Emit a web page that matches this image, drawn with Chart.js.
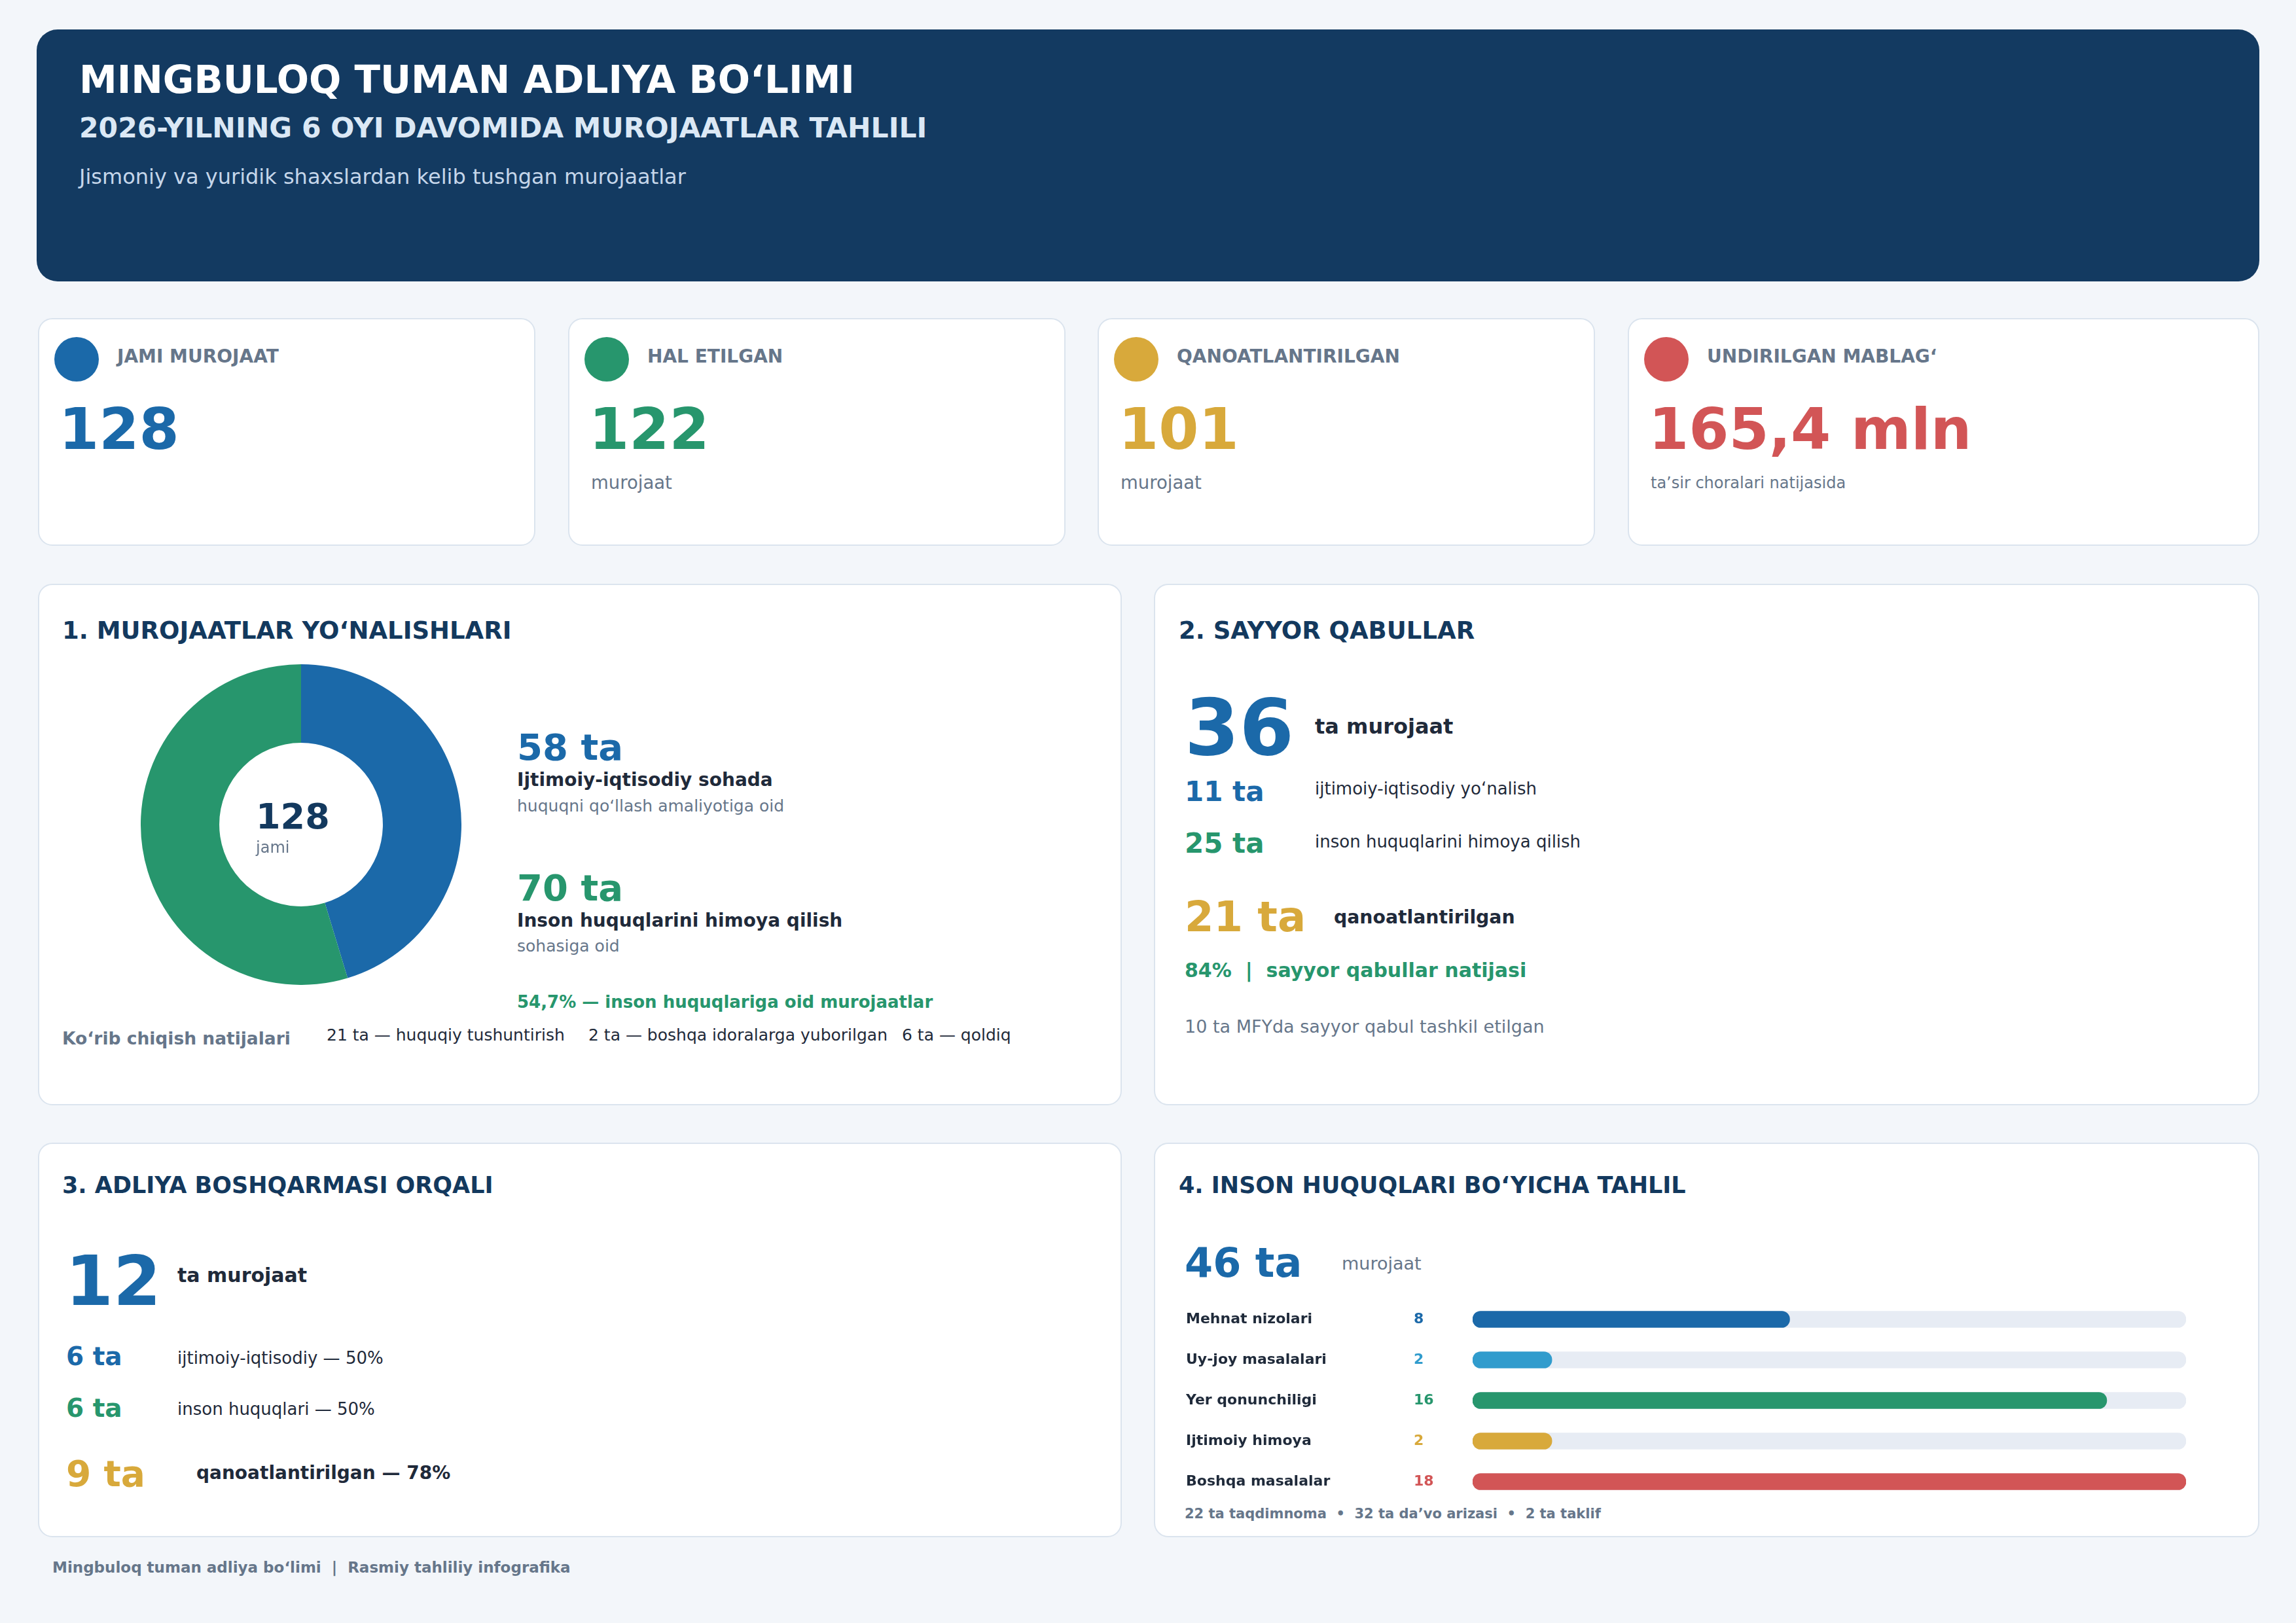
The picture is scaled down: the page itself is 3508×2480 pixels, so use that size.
<!DOCTYPE html>
<html>
<head>
<meta charset="utf-8">
<script src="https://cdn.jsdelivr.net/npm/chart.js@4.4.1/dist/chart.umd.min.js"></script>
<style>
  html, body { margin: 0; padding: 0; }
  body { width: 3508px; height: 2480px; background: #f3f6fa; position: relative; overflow: hidden;
         font-family: "DejaVu Sans", sans-serif; }
  .box { position: absolute; box-sizing: border-box; }
  .card { background: #fff; border: 2px solid #dbe4ee; border-radius: 22px; }
  .t { position: absolute; white-space: pre; line-height: 1; transform: translateY(-50%); }
  .dot { position: absolute; border-radius: 50%; }
  canvas { position: absolute; }
</style>
</head>
<body>
<div class="box" style="left:56px;top:45px;width:3396px;height:385px;background:#133a61;border-radius:32px"></div>

<div class="box card" style="left:58px;top:486px;width:760px;height:348px"></div>
<div class="box card" style="left:868px;top:486px;width:760px;height:348px"></div>
<div class="box card" style="left:1677px;top:486px;width:760px;height:348px"></div>
<div class="box card" style="left:2487px;top:486px;width:965px;height:348px"></div>

<div class="box card" style="left:58px;top:892px;width:1656px;height:797px"></div>
<div class="box card" style="left:1763px;top:892px;width:1689px;height:797px"></div>
<div class="box card" style="left:58px;top:1746px;width:1656px;height:603px"></div>
<div class="box card" style="left:1763px;top:1746px;width:1689px;height:603px"></div>

<canvas id="donut" width="490" height="490" style="left:215px;top:1015px"></canvas>
<canvas id="bars" width="1528" height="310" style="left:1812px;top:1985px"></canvas>

<script>
// ---- data ----
var kpiLabels = ['JAMI MUROJAAT', 'HAL ETILGAN', 'QANOATLANTIRILGAN', 'UNDIRILGAN MABLAG‘']
var kpiValues = ['128', '122', '101', '165,4 mln']
var kpiNotes = ['', 'murojaat', 'murojaat', 'ta’sir choralari natijasida']

var directionLabels = ['Ijtimoiy-iqtisodiy sohada', 'Inson huquqlarini himoya qilish']
var directionNotes = ['huquqni qo‘llash amaliyotiga oid', 'sohasiga oid']
var directionValues = [58, 70]
var directionTotal = 128

var reviewResults = ['21 ta — huquqiy tushuntirish', '2 ta — boshqa idoralarga yuborilgan', '6 ta — qoldiq']

var rightsCategories = ['Mehnat nizolari', 'Uy-joy masalalari', 'Yer qonunchiligi', 'Ijtimoiy himoya', 'Boshqa masalalar']
var rightsValues = [8, 2, 16, 2, 18]

// ---- colours ----
var blue = '#1b69a9', green = '#27966d', gold = '#d8a93b', red = '#d25556', sky = '#319ccd'
var navy = '#13395e', dark = '#1f2a3a', gray = '#66768a'
var kpiColors = [blue, green, gold, red]
var rightsColors = [blue, sky, green, gold, red]

/**
 * Put one line of text, y is the vertical middle
 */
function put(x, y, text, size, weight, color) {
    var el = document.createElement('div')
    el.className = 't'
    el.style.left = x + 'px'
    el.style.top = y + 'px'
    el.style.fontSize = size + 'px'
    el.style.fontWeight = weight
    el.style.color = color
    el.textContent = text
    document.body.appendChild(el)
    return el
}

// header
put(121, 122, 'MINGBULOQ TUMAN ADLIYA BO‘LIMI', 58, 'bold', '#ffffff')
put(121, 196, '2026-YILNING 6 OYI DAVOMIDA MUROJAATLAR TAHLILI', 42.5, 'bold', '#dbe8f5')
put(121, 270, 'Jismoniy va yuridik shaxslardan kelib tushgan murojaatlar', 32, 'normal', '#c5d6ea')

// kpi cards
var kpiLeft = [58, 868, 1677, 2487]
for (var i = 0; i < kpiLabels.length; i++) {
    var d = document.createElement('div')
    d.className = 'dot'
    d.style.left = (kpiLeft[i] + 25) + 'px'
    d.style.top = '515px'
    d.style.width = '68px'
    d.style.height = '68px'
    d.style.background = kpiColors[i]
    document.body.appendChild(d)
    put(kpiLeft[i] + 121, 545, kpiLabels[i], 28, 'bold', gray)
    put(kpiLeft[i] + 32, 656, kpiValues[i], 88, 'bold', kpiColors[i])
    if (kpiNotes[i]) put(kpiLeft[i] + 35, 738, kpiNotes[i], i == 3 ? 24 : 27.5, 'normal', gray)
}

// section 1
put(95, 963, '1. MUROJAATLAR YO‘NALISHLARI', 37, 'bold', navy)
put(391, 1248, String(directionTotal), 54, 'bold', navy)
put(391, 1295, 'jami', 24, 'normal', gray)
put(790, 1142, directionValues[0] + ' ta', 56, 'bold', blue)
put(790, 1192, directionLabels[0], 28, 'bold', dark)
put(790, 1231, directionNotes[0], 25, 'normal', gray)
put(790, 1357, directionValues[1] + ' ta', 56, 'bold', green)
put(790, 1407, directionLabels[1], 28, 'bold', dark)
put(790, 1445, directionNotes[1], 25, 'normal', gray)
put(790, 1531, (directionValues[1] / directionTotal * 100).toFixed(1).replace('.', ',') + '% — inson huquqlariga oid murojaatlar', 26, 'bold', green)
put(95, 1587, 'Ko‘rib chiqish natijalari', 26.5, 'bold', gray)
var reviewX = [499, 899, 1378]
for (var i = 0; i < reviewResults.length; i++) put(reviewX[i], 1581, reviewResults[i], 25, 'normal', dark)

// section 2
put(1801, 963, '2. SAYYOR QABULLAR', 37, 'bold', navy)
put(1810, 1112, '36', 120, 'bold', blue)
put(2009, 1110, 'ta murojaat', 32, 'bold', dark)
put(1810, 1210, '11 ta', 42, 'bold', blue)
put(2009, 1205, 'ijtimoiy-iqtisodiy yo‘nalish', 26, 'normal', dark)
put(1810, 1289, '25 ta', 42, 'bold', green)
put(2009, 1286, 'inson huquqlarini himoya qilish', 26, 'normal', dark)
put(1810, 1401, '21 ta', 64, 'bold', gold)
put(2038, 1402, 'qanoatlantirilgan', 28.3, 'bold', dark)
put(1810, 1483, '84%  |  sayyor qabullar natijasi', 30, 'bold', green)
put(1810, 1568, '10 ta MFYda sayyor qabul tashkil etilgan', 27, 'normal', gray)

// section 3
put(95, 1811, '3. ADLIYA BOSHQARMASI ORQALI', 35, 'bold', navy)
put(100, 1958, '12', 105, 'bold', blue)
put(271, 1949, 'ta murojaat', 30, 'bold', dark)
put(101, 2072, '6 ta', 39, 'bold', blue)
put(271, 2075, 'ijtimoiy-iqtisodiy — 50%', 26, 'normal', dark)
put(101, 2151, '6 ta', 39, 'bold', green)
put(271, 2153, 'inson huquqlari — 50%', 26, 'normal', dark)
put(101, 2252, '9 ta', 55, 'bold', gold)
put(300, 2251, 'qanoatlantirilgan — 78%', 28, 'bold', dark)

// section 4
put(1801, 1811, '4. INSON HUQUQLARI BO‘YICHA TAHLIL', 35, 'bold', navy)
put(1810, 1930, '46 ta', 62, 'bold', blue)
put(2050, 1930, 'murojaat', 27, 'normal', gray)
put(1810, 2313, '22 ta taqdimnoma  •  32 ta da’vo arizasi  •  2 ta taklif', 21, 'bold', gray)

// footer
put(80, 2395, 'Mingbuloq tuman adliya bo‘limi  |  Rasmiy tahliliy infografika', 23, 'bold', gray)

// ---- doughnut ----
new Chart(document.getElementById('donut'), {
    type: 'doughnut',
    data: {
        labels: directionLabels,
        datasets: [{ data: directionValues, backgroundColor: [blue, green], borderWidth: 0 }]
    },
    options: {
        responsive: false,
        devicePixelRatio: 1,
        animation: false,
        cutout: '51%',
        events: [],
        plugins: { legend: { display: false }, tooltip: { enabled: false } }
    }
})

// ---- horizontal bars ----
var rightsMax = Math.max.apply(null, rightsValues)

var rowLabels = {
    id: 'rowLabels',
    afterDatasetsDraw(chart) {
        var ctx = chart.ctx, y = chart.scales.y
        ctx.save()
        ctx.font = 'bold 22px "DejaVu Sans"'
        ctx.textBaseline = 'middle'
        rightsCategories.forEach((name, i) => {
            var py = y.getPixelForValue(i)
            ctx.fillStyle = dark
            ctx.fillText(name, 0, py)
            ctx.fillStyle = rightsColors[i]
            ctx.fillText(String(rightsValues[i]), 348, py)
        })
        ctx.restore()
    }
}

new Chart(document.getElementById('bars'), {
    type: 'bar',
    data: {
        labels: rightsCategories,
        datasets: [
            { data: rightsValues, backgroundColor: rightsColors, borderRadius: 13, borderSkipped: false, barThickness: 25, order: 1 },
            { data: rightsValues.map(() => rightsMax), backgroundColor: '#e7ecf4', borderRadius: 13, borderSkipped: false, barThickness: 25, order: 2 }
        ]
    },
    options: {
        indexAxis: 'y',
        responsive: false,
        devicePixelRatio: 1,
        animation: false,
        events: [],
        grouped: false,
        layout: { padding: { left: 438, right: 0, top: 0, bottom: 0 } },
        scales: {
            x: { display: false, min: 0, max: rightsMax },
            y: { display: false }
        },
        plugins: { legend: { display: false }, tooltip: { enabled: false } }
    },
    plugins: [rowLabels]
})
</script>
</body>
</html>
